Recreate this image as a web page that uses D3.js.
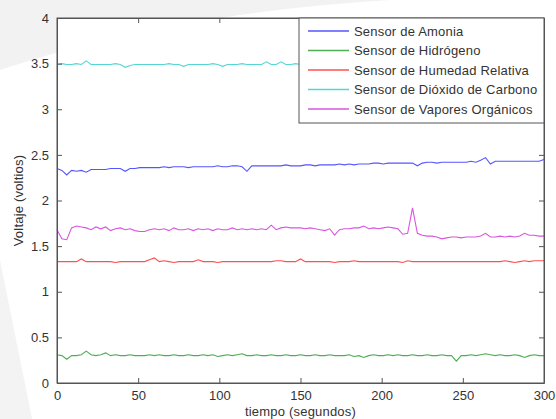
<!DOCTYPE html>
<html>
<head>
<meta charset="utf-8">
<script src="https://cdn.jsdelivr.net/npm/d3@7"></script>
<style>
  body { margin: 0; background: #fff; }
  svg text { font-family: "Liberation Sans", Arial, sans-serif; }
</style>
</head>
<body>
<div id="chart"></div>
<script>
// lecturas cada 3 segundos
const tiempo = d3.range(0, 301, 3);

const amonia = [
  2.35, 2.33, 2.28, 2.33, 2.32, 2.33, 2.31, 2.34, 2.34, 2.34,
  2.34, 2.35, 2.35, 2.35, 2.32, 2.35, 2.35, 2.36, 2.36, 2.36,
  2.36, 2.36, 2.37, 2.36, 2.37, 2.37, 2.37, 2.36, 2.37, 2.37,
  2.37, 2.37, 2.37, 2.38, 2.37, 2.37, 2.38, 2.38, 2.37, 2.32,
  2.38, 2.38, 2.38, 2.38, 2.38, 2.38, 2.38, 2.39, 2.38, 2.38,
  2.38, 2.39, 2.39, 2.38, 2.39, 2.39, 2.39, 2.39, 2.40, 2.39,
  2.40, 2.39, 2.40, 2.40, 2.40, 2.41, 2.41, 2.40, 2.41, 2.41,
  2.41, 2.41, 2.41, 2.41, 2.38, 2.41, 2.42, 2.42, 2.41, 2.42,
  2.42, 2.42, 2.42, 2.42, 2.42, 2.43, 2.42, 2.44, 2.47, 2.40,
  2.43, 2.43, 2.43, 2.43, 2.43, 2.43, 2.43, 2.43, 2.43, 2.43,
  2.45
];

const hidrogeno = [
  0.31, 0.30, 0.26, 0.30, 0.30, 0.31, 0.35, 0.31, 0.30, 0.31,
  0.33, 0.30, 0.31, 0.30, 0.30, 0.31, 0.30, 0.30, 0.30, 0.31,
  0.30, 0.31, 0.30, 0.30, 0.31, 0.30, 0.30, 0.31, 0.30, 0.30,
  0.31, 0.30, 0.31, 0.29, 0.30, 0.31, 0.30, 0.31, 0.32, 0.30,
  0.30, 0.31, 0.30, 0.30, 0.31, 0.30, 0.30, 0.31, 0.30, 0.30,
  0.31, 0.30, 0.30, 0.31, 0.30, 0.30, 0.31, 0.30, 0.30, 0.30,
  0.31, 0.29, 0.30, 0.28, 0.30, 0.31, 0.30, 0.30, 0.31, 0.30,
  0.31, 0.30, 0.30, 0.31, 0.30, 0.30, 0.31, 0.30, 0.30, 0.31,
  0.30, 0.30, 0.24, 0.30, 0.30, 0.31, 0.30, 0.31, 0.32, 0.31,
  0.30, 0.31, 0.30, 0.30, 0.31, 0.30, 0.28, 0.30, 0.31, 0.30,
  0.30
];

const humedad = [
  1.33, 1.33, 1.33, 1.33, 1.33, 1.36, 1.33, 1.33, 1.33, 1.33,
  1.33, 1.33, 1.32, 1.33, 1.33, 1.33, 1.33, 1.33, 1.33, 1.35,
  1.37, 1.33, 1.34, 1.33, 1.32, 1.33, 1.33, 1.33, 1.33, 1.35,
  1.33, 1.33, 1.33, 1.32, 1.33, 1.33, 1.33, 1.33, 1.33, 1.33,
  1.33, 1.33, 1.33, 1.33, 1.33, 1.34, 1.34, 1.33, 1.33, 1.33,
  1.36, 1.33, 1.33, 1.33, 1.33, 1.33, 1.33, 1.32, 1.33, 1.33,
  1.33, 1.34, 1.33, 1.33, 1.33, 1.33, 1.33, 1.33, 1.33, 1.33,
  1.33, 1.32, 1.34, 1.33, 1.33, 1.33, 1.33, 1.33, 1.33, 1.33,
  1.33, 1.33, 1.33, 1.33, 1.33, 1.33, 1.33, 1.33, 1.33, 1.33,
  1.33, 1.33, 1.34, 1.33, 1.32, 1.33, 1.34, 1.33, 1.34, 1.34,
  1.34
];

const dioxido = [
  3.49, 3.50, 3.49, 3.49, 3.50, 3.49, 3.53, 3.49, 3.49, 3.49,
  3.49, 3.49, 3.50, 3.49, 3.46, 3.48, 3.49, 3.49, 3.49, 3.49,
  3.49, 3.49, 3.49, 3.50, 3.49, 3.49, 3.47, 3.49, 3.49, 3.49,
  3.49, 3.49, 3.50, 3.49, 3.47, 3.49, 3.49, 3.49, 3.50, 3.49,
  3.49, 3.49, 3.49, 3.52, 3.49, 3.49, 3.52, 3.49, 3.49, 3.50,
  3.49, 3.49, 3.50, 3.49, 3.49, 3.49, 3.50, 3.49, 3.49, 3.49,
  3.49, 3.50, 3.49, 3.49, 3.49, 3.49, 3.50, 3.49, 3.49, 3.49,
  3.49, 3.49, 3.50, 3.49, 3.49, 3.49, 3.49, 3.50, 3.49, 3.49,
  3.49, 3.49, 3.49, 3.49, 3.50, 3.49, 3.49, 3.49, 3.49, 3.49,
  3.50, 3.49, 3.49, 3.49, 3.49, 3.49, 3.49, 3.50, 3.49, 3.49,
  3.49
];

const vapores = [
  1.68, 1.58, 1.57, 1.70, 1.72, 1.71, 1.70, 1.68, 1.71, 1.69,
  1.71, 1.67, 1.69, 1.70, 1.68, 1.69, 1.67, 1.66, 1.66, 1.68,
  1.69, 1.68, 1.69, 1.67, 1.70, 1.68, 1.68, 1.69, 1.67, 1.69,
  1.68, 1.69, 1.67, 1.69, 1.68, 1.68, 1.70, 1.68, 1.69, 1.68,
  1.69, 1.68, 1.69, 1.68, 1.73, 1.68, 1.70, 1.71, 1.70, 1.70,
  1.70, 1.69, 1.70, 1.69, 1.68, 1.67, 1.69, 1.62, 1.68, 1.69,
  1.69, 1.70, 1.70, 1.72, 1.69, 1.70, 1.69, 1.70, 1.71, 1.70,
  1.69, 1.63, 1.64, 1.92, 1.64, 1.62, 1.61, 1.61, 1.60, 1.58,
  1.59, 1.60, 1.60, 1.59, 1.60, 1.60, 1.60, 1.61, 1.64, 1.60,
  1.60, 1.61, 1.60, 1.61, 1.60, 1.61, 1.64, 1.62, 1.62, 1.61,
  1.61
];

const series = [
  { nombre: "Sensor de Amonia", valores: amonia, color: "#5555ff" },
  { nombre: "Sensor de Hidrógeno", valores: hidrogeno, color: "#4caf50" },
  { nombre: "Sensor de Humedad Relativa", valores: humedad, color: "#ff5050" },
  { nombre: "Sensor de Dióxido de Carbono", valores: dioxido, color: "#55d6d6" },
  { nombre: "Sensor de Vapores Orgánicos", valores: vapores, color: "#d855e0" }
];

const xTicks = [0, 50, 100, 150, 200, 250, 300];
const yTicks = [0, 0.5, 1, 1.5, 2, 2.5, 3, 3.5, 4];

const width = 556, height = 419;
const margin = { top: 18, right: 12, bottom: 36, left: 57 };
const iw = width - margin.left - margin.right,
      ih = height - margin.top - margin.bottom;

const svg = d3.select("#chart").append("svg")
  .attr("width", width)
  .attr("height", height);

// marca de agua tenue del fondo
svg.append("rect").attr("width", width).attr("height", height).attr("fill", "#fff");
svg.append("path")
  .attr("d", "M0,70 C90,40 220,10 390,0 L0,0 Z")
  .attr("fill", "#f2f2f2");
svg.append("path")
  .attr("d", "M0,260 L32,419 L0,419 Z")
  .attr("fill", "#f3f3f3");

const g = svg.append("g").attr("transform", `translate(${margin.left},${margin.top})`);

const x = d3.scaleLinear().domain([0, 300]).range([0, iw]);
const y = d3.scaleLinear().domain([0, 4]).range([ih, 0]);

g.append("rect")
  .attr("width", iw).attr("height", ih)
  .attr("fill", "#fff");

const line = d3.line()
  .x((d, i) => x(tiempo[i]))
  .y(d => y(d));

g.selectAll(".serie")
  .data(series)
  .join("path")
  .attr("class", "serie")
  .attr("d", s => line(s.valores))
  .attr("fill", "none")
  .attr("stroke", s => s.color)
  .attr("stroke-width", 1.1);

const ejeColor = "#555";

// ejes estilo matlab, ticks hacia dentro
const ax = [
  d3.axisBottom(x).tickValues(xTicks).tickSizeInner(-5).tickSizeOuter(0).tickPadding(8),
  d3.axisLeft(y).tickValues(yTicks).tickSizeInner(-5).tickSizeOuter(0).tickPadding(8).tickFormat(d3.format("")),
  d3.axisTop(x).tickValues(xTicks).tickSizeInner(-5).tickSizeOuter(0).tickFormat(""),
  d3.axisRight(y).tickValues(yTicks).tickSizeInner(-5).tickSizeOuter(0).tickFormat("")
];
const pos = [`translate(0,${ih})`, "translate(0,0)", "translate(0,0)", `translate(${iw},0)`];

ax.forEach((a, i) => {
  const ga = g.append("g").attr("transform", pos[i]).call(a);
  ga.select(".domain").attr("stroke", ejeColor);
  ga.selectAll(".tick line").attr("stroke", ejeColor);
  ga.selectAll(".tick text")
    .attr("fill", "#333")
    .style("font-size", "13px");
});

g.append("rect")
  .attr("width", iw).attr("height", ih)
  .attr("fill", "none")
  .attr("stroke", ejeColor);

svg.append("text")
  .attr("x", margin.left + iw / 2)
  .attr("y", 416)
  .attr("text-anchor", "middle")
  .attr("fill", "#333")
  .style("font-size", "13px")
  .style("letter-spacing", "0.2px")
  .text("tiempo (segundos)");

svg.append("text")
  .attr("transform", `translate(23,${margin.top + ih / 2}) rotate(-90)`)
  .attr("text-anchor", "middle")
  .attr("fill", "#333")
  .style("font-size", "13px")
  .style("letter-spacing", "0.2px")
  .text("Voltaje (voltios)");

// leyenda
const lx = 299 - margin.left, lw = iw - lx, lh = 105;
const leg = g.append("g").attr("transform", `translate(${lx},0)`);
leg.append("rect")
  .attr("width", lw).attr("height", lh)
  .attr("fill", "#fff")
  .attr("stroke", ejeColor);

const items = leg.selectAll(".item")
  .data(series)
  .join("g")
  .attr("transform", (d, i) => `translate(0,${13 + i * 19.5})`);
items.append("line")
  .attr("x1", 9).attr("x2", 50)
  .attr("stroke", d => d.color)
  .attr("stroke-width", 1.3);
items.append("text")
  .attr("x", 55).attr("dy", "0.35em")
  .attr("fill", "#333")
  .style("font-size", "13px")
  .style("letter-spacing", "0.2px")
  .text(d => d.nombre);
</script>
</body>
</html>
